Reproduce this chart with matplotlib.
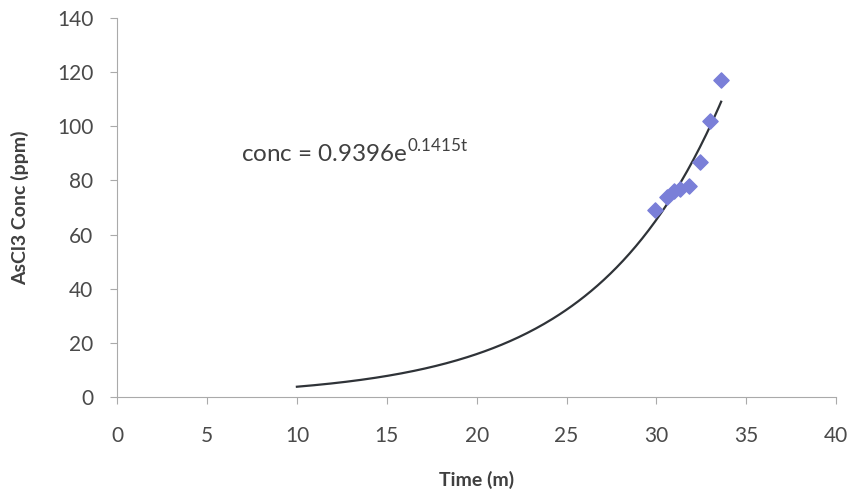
import matplotlib.pyplot as plt
import numpy as np

# measured points
time_m = [29.9, 30.6, 31.0, 31.3, 31.8, 32.4, 33.0, 33.6]
conc_ppm = [69, 74, 76, 77, 78, 87, 102, 117]

# exponential fit shown on chart
fit_a = 0.9396
fit_b = 0.1415
fit_start, fit_end = 10, 33.6

plt.rcParams['font.family'] = ['Lato', 'DejaVu Sans']
plt.rcParams['mathtext.fontset'] = 'custom'
plt.rcParams['mathtext.rm'] = 'Lato'

fig = plt.figure(figsize=(8.55, 4.99), dpi=100)
ax = fig.add_axes([0.137, 0.204, 0.841, 0.760])

t = np.linspace(fit_start, fit_end, 200)
ax.plot(t, fit_a * np.exp(fit_b * t), color='#2f3338', lw=1.6, zorder=2)
ax.scatter(time_m, conc_ppm, marker='D', s=60, color='#7a7fd8', zorder=3)

ax.set_xlim(0, 40)
ax.set_ylim(0, 140)
ax.set_xticks(range(0, 41, 5))
ax.set_yticks(range(0, 141, 20))

for s in ['top', 'right']:
    ax.spines[s].set_visible(False)
for s in ['left', 'bottom']:
    ax.spines[s].set_color('#aaaaaa')
ax.tick_params(colors='#aaaaaa', labelcolor='#4a4a4a', labelsize=15, length=5, direction='out')
ax.tick_params(axis='x', pad=16)
ax.tick_params(axis='y', pad=12)

ax.set_xlabel('Time (m)', fontsize=14, fontweight='bold', color='#404040', labelpad=18)
ax.set_ylabel('AsCl3 Conc (ppm)', fontsize=14, fontweight='bold', color='#404040', labelpad=20)

ax.text(6.9, 90.5, r'conc = 0.9396e$^{\mathrm{0.1415t}}$', fontsize=17.5, color='#404040', va='center')

fig.savefig('out.png', dpi=100)
